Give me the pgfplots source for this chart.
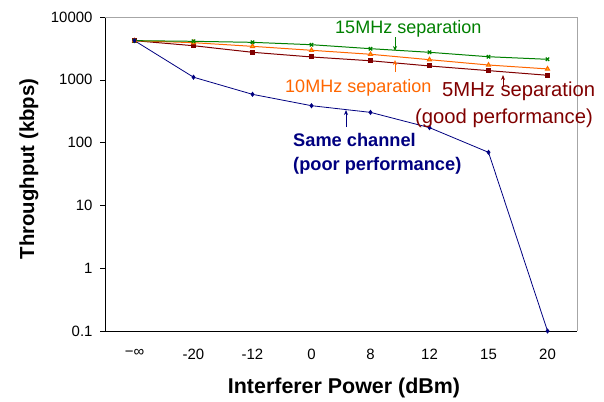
\documentclass[border=0pt]{standalone}
\usepackage{fontspec}
\setmainfont{Liberation Sans}
\usepackage{pgfplots}
\pgfplotsset{compat=1.18}
\usetikzlibrary{arrows.meta}
\definecolor{cgreen}{RGB}{0,128,0}
\definecolor{corange}{RGB}{255,102,0}
\definecolor{cred}{RGB}{128,0,0}
\definecolor{cblue}{RGB}{0,0,128}
\pgfplotstableread{
x y
0 4200
1 4100
2 3950
3 3620
4 3130
5 2740
6 2330
7 2120
}\greendata
\pgfplotstableread{
x y
0 4200
1 3900
2 3410
3 2950
4 2550
5 2090
6 1720
7 1490
}\orangedata
\pgfplotstableread{
x y
0 4200
1 3490
2 2740
3 2310
4 2010
5 1660
6 1400
7 1180
}\reddata
\pgfplotstableread{
x y
0 4200
1 1100
2 587
3 387
4 303
5 173
6 70
7 0.1
}\bluedata
\begin{document}
\begin{tikzpicture}[x=1bp,y=1bp]
\path[use as bounding box] (0,0) rectangle (604,401);
\begin{axis}[
  at={(105bp,70bp)}, anchor=south west,
  scale only axis, width=472bp, height=314bp,
  ymode=log, ymin=0.1, ymax=10000,
  xmin=-0.5, xmax=7.5,
  axis x line*=bottom, axis y line*=left,
  axis line style={black, line width=0.6pt, -},
  tick align=outside,
  ytick={0.1,1,10,100,1000,10000},
  yticklabels={0.1,1,10,100,1000,10000},
  yminorticks=false,
  y tick label style={font=\fontsize{15}{16}\selectfont, xshift=-4bp},
  ytick style={black, line width=0.6pt}, major tick length=5bp,
  xtick={0,...,7},
  xticklabels={−∞,-20,-12,0,8,12,15,20},
  x tick label style={font=\fontsize{15}{16}\selectfont, yshift=-10bp},
  xtick style={draw=none},
  extra x ticks={-0.5,0.5,1.5,2.5,3.5,4.5,5.5,6.5,7.5},
  extra x tick labels={},
  extra x tick style={tick style={draw=black, line width=0.6pt}, major tick length=5bp},
  clip=false,
]
\draw[gray!70, line width=0.6pt] (rel axis cs:0,1) -- (rel axis cs:1,1) -- (rel axis cs:1,0);
\addplot[cred, line width=1pt, mark=square*, mark size=2pt] table {\reddata};
\addplot[corange, line width=1pt, mark=triangle*, mark size=2.4pt, mark options={fill=yellow!60!orange}] table {\orangedata};
\addplot[cgreen, line width=1pt, mark=x, mark size=2.4pt, mark options={line width=1.2pt}] table {\greendata};
\addplot[cblue, line width=0.8pt, mark=diamond*, mark size=2pt] table {\bluedata};
\end{axis}
% axis labels
\node[rotate=90, anchor=base, font=\bfseries\fontsize{20.4}{22}\selectfont] at (34,232) {Throughput (kbps)};
\node[anchor=base, font=\bfseries\fontsize{21.5}{23}\selectfont] at (344,7.7) {Interferer Power (dBm)};
% annotations
\node[cgreen, anchor=base west, inner sep=0pt, font=\fontsize{18.1}{20}\selectfont] at (335,367.7) {15MHz separation};
\draw[cgreen, line width=0.9pt, -{Stealth[length=5bp,width=4bp]}] (395,364) -- (395,350);
\node[corange, anchor=base west, inner sep=0pt, font=\fontsize{18.1}{20}\selectfont] at (285,308.3) {10MHz separation};
\draw[corange, line width=0.9pt, -{Stealth[length=5bp,width=4bp]}] (395,329) -- (395,341);
\node[cred, anchor=base west, inner sep=0pt, font=\fontsize{20.3}{22}\selectfont] at (442,304.3) {5MHz separation};
\node[cred, anchor=base west, inner sep=0pt, font=\fontsize{20.3}{22}\selectfont] at (415,278) {(good performance)};
\draw[cred, line width=0.9pt, -{Stealth[length=5bp,width=4bp]}] (503,314) -- (503,326);
\node[cblue, anchor=base west, inner sep=0pt, font=\bfseries\fontsize{18.3}{22}\selectfont] at (293,254.3) {Same channel};
\node[cblue, anchor=base west, inner sep=0pt, font=\bfseries\fontsize{18.3}{22}\selectfont] at (293,231) {(poor performance)};
\draw[cblue, line width=0.9pt, -{Stealth[length=5bp,width=4bp]}] (346,274) -- (346,291);
\end{tikzpicture}
\end{document}
